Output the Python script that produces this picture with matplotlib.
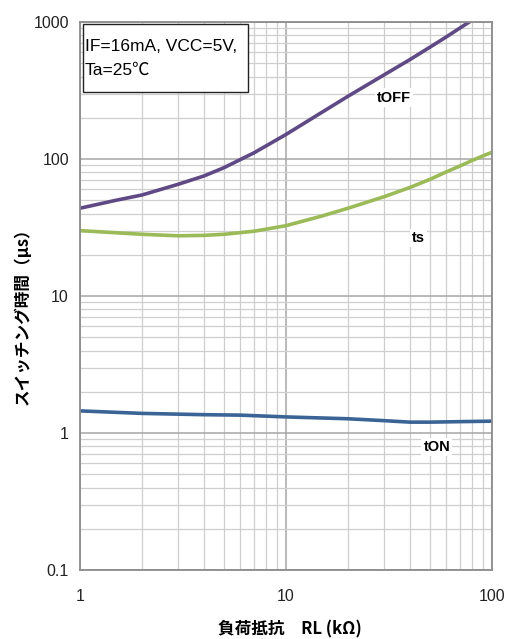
import numpy as np
import matplotlib.pyplot as plt
from matplotlib.patches import Rectangle
from matplotlib.ticker import FixedLocator, NullFormatter, LogLocator

plt.rcParams['font.family'] = ['Liberation Sans', 'Noto Sans CJK JP', 'DejaVu Sans']

# values
rl_off = [1, 1.5, 2, 3, 4, 5, 6, 7, 10, 15, 20, 30, 40, 50, 60, 70, 80, 100]
t_off = [43.7, 50, 54.6, 65.4, 75.2, 86.4, 99, 111, 151, 220, 287, 412,
         532, 655, 778, 905, 1030, 1300]

rl_s = [1, 2, 3, 4, 5, 6, 7, 9, 10, 15, 20, 30, 40, 50, 60, 70, 80, 90, 100]
t_s = [30, 28.2, 27.5, 27.7, 28.2, 29, 29.7, 31.7, 32.6, 38.4, 43.7, 53.1,
       62, 71, 80.5, 89, 97.5, 105, 112]

rl_on = [1, 2, 4, 6, 10, 20, 30, 40, 50, 70, 100]
t_on = [1.45, 1.39, 1.36, 1.35, 1.31, 1.27, 1.23, 1.20, 1.20, 1.21, 1.22]

fig = plt.figure(figsize=(5.07, 6.39), dpi=100)
ax = fig.add_axes([0.1578, 0.108, 0.8126, 0.8576])

ax.plot(rl_off, t_off, color='#5f4a85', lw=2.6, solid_capstyle='butt')
ax.plot(rl_s, t_s, color='#9bbb59', lw=2.6, solid_capstyle='butt')
ax.plot(rl_on, t_on, color='#3b6496', lw=2.6, solid_capstyle='butt')

ax.set_xscale('log')
ax.set_yscale('log')
ax.set_xlim(1, 100)
ax.set_ylim(0.1, 1000)

ax.xaxis.set_major_locator(FixedLocator([1, 10, 100]))
ax.yaxis.set_major_locator(FixedLocator([0.1, 1, 10, 100, 1000]))
ax.set_xticklabels(['1', '10', '100'])
ax.set_yticklabels(['0.1', '1', '10', '100', '1000'])
ax.xaxis.set_minor_locator(LogLocator(base=10, subs=np.arange(2, 10)))
ax.yaxis.set_minor_locator(LogLocator(base=10, subs=np.arange(2, 10)))
ax.xaxis.set_minor_formatter(NullFormatter())
ax.yaxis.set_minor_formatter(NullFormatter())
ax.tick_params(which='both', length=0, labelsize=11.5, colors='#222222')
ax.tick_params(axis='x', pad=14)
ax.tick_params(axis='y', pad=8)

ax.grid(which='major', color='#a6a6a6', lw=1.1)
ax.grid(which='minor', color='#cfcfcf', lw=0.9)
ax.set_axisbelow(True)
for s in ax.spines.values():
    s.set_color('#8c8c8c')
    s.set_linewidth(1.3)

ax.set_xlabel('負荷抵抗\u3000RL (kΩ)', fontsize=12, fontweight='bold',
              family=['Noto Sans CJK JP', 'DejaVu Sans'])
ax.set_ylabel('スイッチング時間（μs）', fontsize=12, fontweight='bold',
              family=['Noto Sans CJK JP', 'DejaVu Sans'])
ax.xaxis.set_label_coords(0.51, -0.093)
ax.yaxis.set_label_coords(-0.118, 0.471)

# condition box
ax.add_patch(Rectangle((0.0073, 0.872), 0.401, 0.1244, transform=ax.transAxes,
                       fc='white', ec='#222222', lw=1.0, zorder=4))
ax.text(0.0121, 0.9544, 'IF=16mA, VCC=5V,', transform=ax.transAxes,
        fontsize=12.5, va='center', ha='left', zorder=5)
ax.text(0.0121, 0.9124, 'Ta=25℃', transform=ax.transAxes,
        fontsize=12.5, va='center', ha='left', zorder=5,
        family=['Liberation Sans', 'Noto Sans CJK JP'])

lbl = dict(fontsize=10.5, fontweight='bold', ha='center', va='center',
           bbox=dict(boxstyle='square,pad=0.15', fc='white', ec='none'))
ax.text(0.762, 0.862, 'tOFF', transform=ax.transAxes, **lbl)
ax.text(0.822, 0.606, 'ts', transform=ax.transAxes, **lbl)
ax.text(0.866, 0.224, 'tON', transform=ax.transAxes, **lbl)

fig.savefig('out.png', dpi=100)
